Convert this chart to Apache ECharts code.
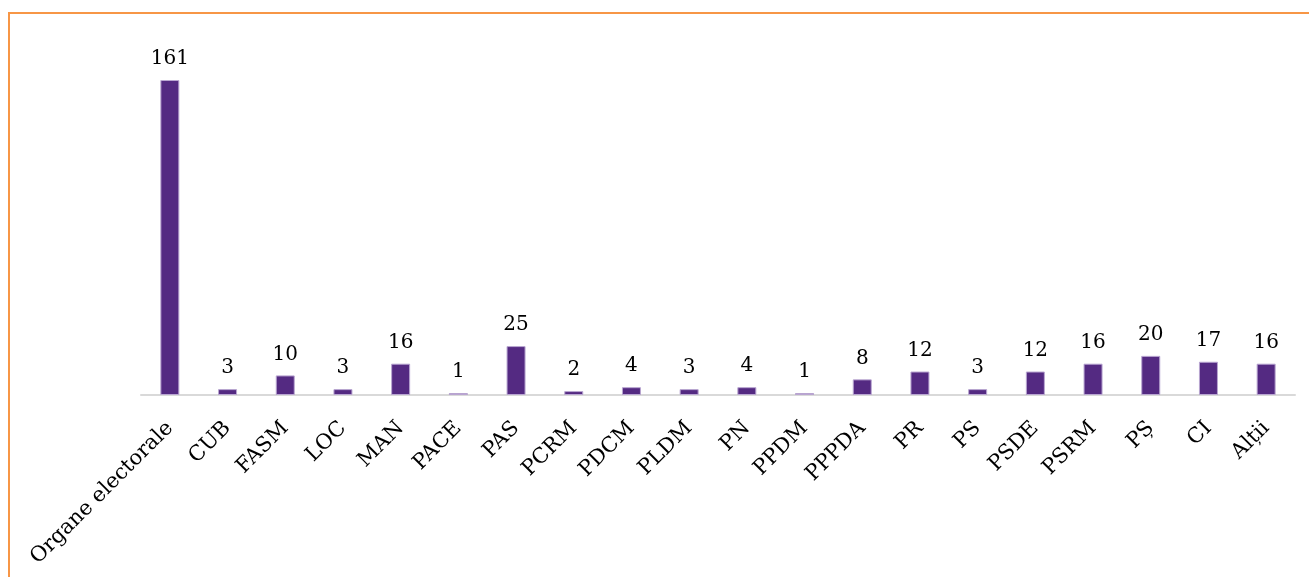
<!DOCTYPE html>
<html lang="ro">
<head>
    <meta charset="UTF-8">
    <title>Organe electorale și partide</title>
    <script src="https://cdn.jsdelivr.net/npm/echarts@6/dist/echarts.min.js"></script>
    <style>
        html, body {
            margin: 0;
            padding: 0;
            width: 1309px;
            height: 577px;
            overflow: hidden;
            background: #fff;
        }
        .frame {
            position: absolute;
            left: 8px;
            top: 12px;
            width: 1340px;
            height: 620px;
            border: 2px solid #f79646;
            box-sizing: border-box;
        }
        #chart {
            position: absolute;
            left: 0;
            top: 0;
            width: 1309px;
            height: 577px;
        }
    </style>
</head>
<body>
    <div class="frame"></div>
    <div id="chart"></div>

    <script>
        // categorii si valori
        const categories = ['Organe electorale', 'CUB', 'FASM', 'LOC', 'MAN', 'PACE', 'PAS', 'PCRM', 'PDCM',
            'PLDM', 'PN', 'PPDM', 'PPPDA', 'PR', 'PS', 'PSDE', 'PSRM', 'PȘ', 'CI', 'Alții'];
        const values = [161, 3, 10, 3, 16, 1, 25, 2, 4, 3, 4, 1, 8, 12, 3, 12, 16, 20, 17, 16];

        const chart = echarts.init(document.getElementById('chart'));

        const option = {
            animation: false,
            grid: {
                left: 141,
                right: 14,
                top: 80,
                bottom: 182,
                containLabel: false
            },
            xAxis: {
                type: 'category',
                data: categories,
                axisLine: { lineStyle: { color: '#d9d9d9', width: 2 } },
                axisTick: { show: false },
                axisLabel: {
                    rotate: 45,
                    interval: 0,
                    margin: 30,
                    color: '#000',
                    fontFamily: 'DejaVu Serif',
                    fontSize: 21
                }
            },
            yAxis: {
                type: 'value',
                min: 0,
                max: 161,
                show: false,
                splitLine: { show: false }
            },
            series: [{
                type: 'bar',
                data: values,
                barWidth: 19,
                itemStyle: {
                    color: '#542a82',
                    borderColor: '#b9a6d1',
                    borderWidth: 1
                },
                label: {
                    show: true,
                    position: 'top',
                    distance: 11,
                    color: '#000',
                    fontFamily: 'DejaVu Serif',
                    fontSize: 20
                }
            }]
        };

        chart.setOption(option);
    </script>
</body>
</html>
